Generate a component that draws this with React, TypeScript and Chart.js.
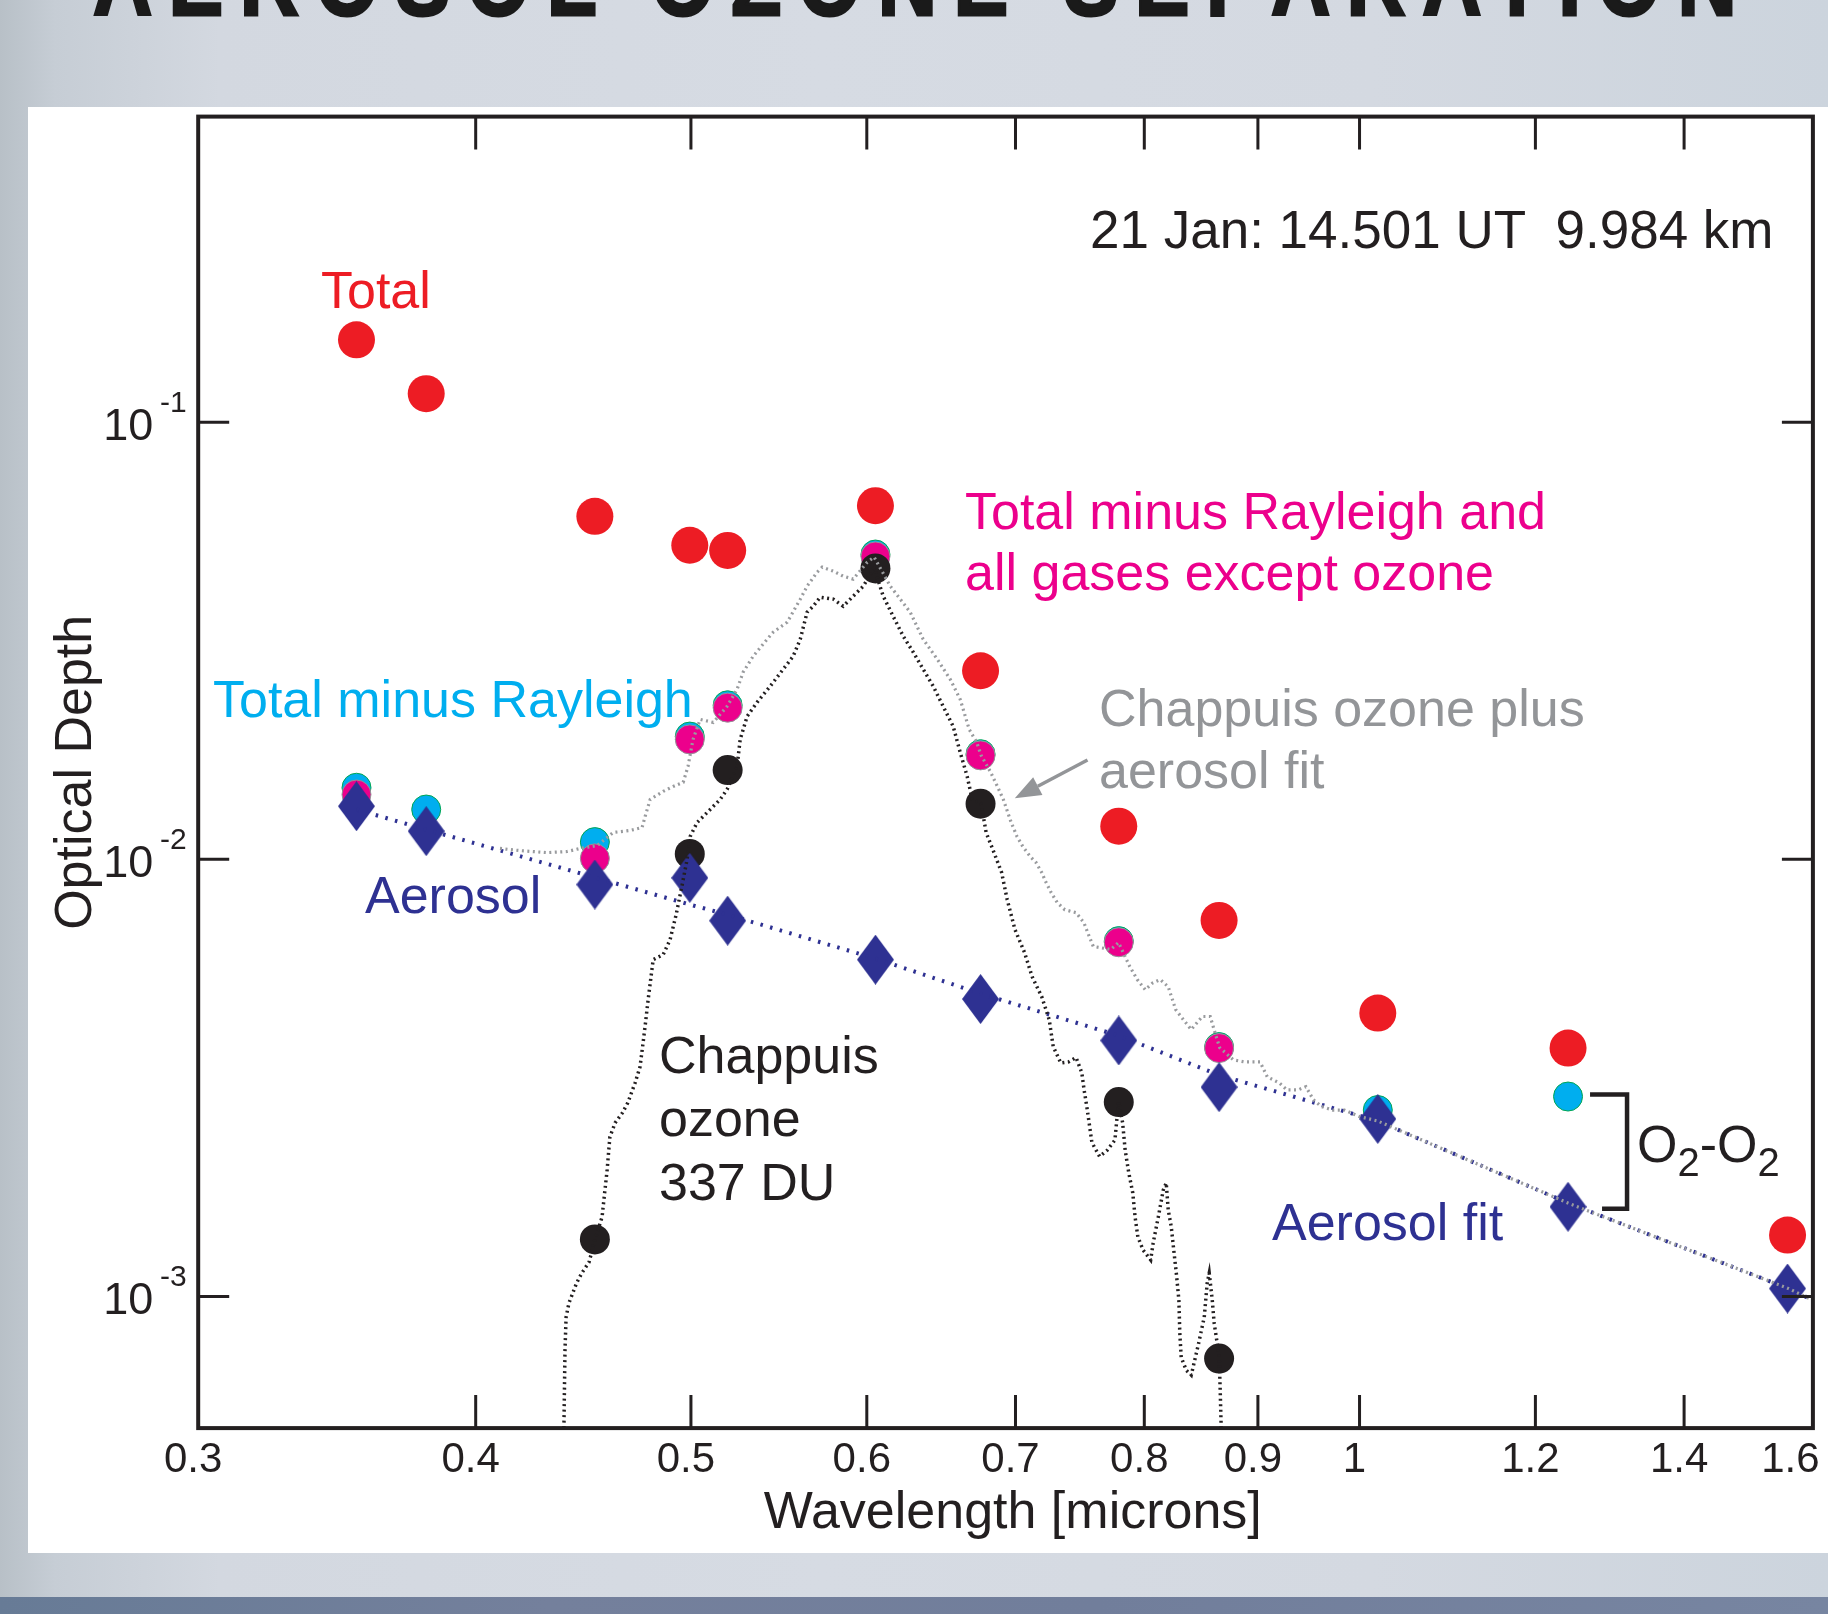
import React, { useEffect, useRef } from 'react';
import { Chart, registerables } from 'chart.js';

Chart.register(...registerables);

// ---------- data ----------
const wavelengths = [0.3535, 0.38, 0.4526, 0.4994, 0.5194, 0.6054, 0.6751, 0.7791, 0.8645, 1.0191, 1.2413, 1.5585];
const totalOD = [0.1543, 0.1162, 0.0609, 0.0523, 0.0509, 0.0644, 0.027, 0.01191, 0.00725, 0.00445, 0.0037, 0.001382];
const totalMinusRayleighOD = [0.01458, 0.013, 0.01095, 0.01909, 0.02251, 0.0498, 0.0174, 0.0065, 0.00372, 0.00267, 0.002867, null];
const minusGasesExceptOzoneOD = [0.01407, null, 0.01005, 0.01881, 0.02223, 0.0493, 0.01729, 0.00646, 0.0037, null, null, null];
const chappuisAtChannelsOD = [null, null, 0.001351, 0.01029, 0.016, 0.04628, 0.0134, 0.002784, 0.000721, null, null, null];
const aerosolOD = [0.01323, 0.0116, 0.008757, 0.009071, 0.00724, 0.005896, 0.004792, 0.003852, 0.003012, 0.002548, 0.001604, 0.001043];

const aerosolFitLambda = [0.3535, 0.38, 0.4526, 0.4994, 0.5194, 0.6054, 0.6751, 0.7791, 0.8645, 1.0191, 1.2413, 1.5585, 1.6];
const aerosolFitOD = [0.013, 0.0117, 0.00909, 0.00788, 0.00747, 0.00593, 0.00493, 0.00395, 0.00321, 0.00252, 0.001636, 0.001045, 0.000981];

const chappuisLambda = [
  0.4383, 0.4388, 0.4393, 0.4406, 0.4441, 0.4465, 0.4499, 0.4527, 0.456, 0.4572,
  0.4584, 0.4597, 0.4622, 0.4657, 0.4683, 0.4719, 0.4743, 0.4758, 0.477, 0.4783,
  0.4808, 0.4858, 0.4893, 0.4924, 0.4955, 0.498, 0.4996, 0.5032, 0.5085, 0.5154,
  0.5191, 0.5245, 0.5262, 0.53, 0.5355, 0.5428, 0.5502, 0.5559, 0.56, 0.564,
  0.5676, 0.5717, 0.5795, 0.5855, 0.5916, 0.5978, 0.6046, 0.6103, 0.6166, 0.6231,
  0.6296, 0.6361, 0.6428, 0.6494, 0.6562, 0.661, 0.6658, 0.6693, 0.6755, 0.679,
  0.6846, 0.69, 0.694, 0.6996, 0.7066, 0.7122, 0.7193, 0.7249, 0.7279, 0.7337,
  0.7396, 0.7454, 0.7498, 0.7516, 0.7537, 0.7555, 0.7577, 0.7638, 0.7698, 0.776,
  0.7789, 0.7822, 0.7843, 0.7872, 0.7905, 0.7924, 0.7947, 0.799, 0.8053, 0.8074,
  0.8117, 0.8159, 0.8184, 0.8201, 0.8227, 0.8248, 0.827, 0.8292, 0.83, 0.8312,
  0.8356, 0.8399, 0.846, 0.8513, 0.8539, 0.8557, 0.8584, 0.8601, 0.8628, 0.8646,
  0.8655, 0.8664,
];
const chappuisOD = [
  0.0005, 0.000754, 0.000897, 0.000966, 0.001073, 0.001131, 0.001199, 0.001353, 0.00152, 0.001725,
  0.001948, 0.002318, 0.002495, 0.00263, 0.002773, 0.003083, 0.003353, 0.003805, 0.004229, 0.004775,
  0.005896, 0.006053, 0.006551, 0.007475, 0.008757, 0.00999, 0.01128, 0.01214, 0.0128, 0.01371,
  0.01445, 0.01632, 0.01881, 0.02124, 0.02286, 0.02488, 0.02722, 0.02914, 0.03188, 0.03676,
  0.03793, 0.03978, 0.03936, 0.03793, 0.03999, 0.04215, 0.04636, 0.03999, 0.03598, 0.03239,
  0.02977, 0.02722, 0.02488, 0.02239, 0.02015, 0.01757, 0.01548, 0.01371, 0.01342, 0.01152,
  0.01036, 0.00933, 0.00809, 0.00691, 0.00612, 0.00539, 0.00485, 0.0043, 0.00373, 0.00342,
  0.00344, 0.00352, 0.00325, 0.00297, 0.00272, 0.0025, 0.00225, 0.00209, 0.00216, 0.00228,
  0.00279, 0.0025, 0.00216, 0.00192, 0.001725, 0.00152, 0.001368, 0.001277, 0.001212, 0.001326,
  0.00152, 0.001753, 0.001819, 0.001577, 0.001442, 0.001277, 0.001131, 0.000981, 0.000824, 0.000726,
  0.000678, 0.000661, 0.000774, 0.000897, 0.001073, 0.001131, 0.000981, 0.000869, 0.000782, 0.000722,
  0.00061, 0.0005,
];

const chappuisPlusFitLambda = [
  0.4102, 0.4188, 0.4307, 0.4398, 0.4457, 0.4537, 0.4613, 0.4694, 0.4753, 0.4768,
  0.4793, 0.4858, 0.4909, 0.496, 0.4985, 0.5011, 0.5048, 0.5117, 0.5191, 0.5245,
  0.5278, 0.5333, 0.5411, 0.5445, 0.5525, 0.56, 0.564, 0.5699, 0.5729, 0.5795,
  0.5855, 0.5916, 0.6003, 0.6046, 0.6148, 0.6212, 0.6276, 0.6361, 0.6455, 0.6542,
  0.661, 0.6672, 0.6724, 0.6755, 0.6819, 0.6873, 0.6912, 0.6969, 0.7011, 0.7053,
  0.7108, 0.7151, 0.7193, 0.7222, 0.7264, 0.731, 0.7367, 0.7454, 0.7515, 0.7544,
  0.7588, 0.7727, 0.7789, 0.7881, 0.7942, 0.8008, 0.8071, 0.8134, 0.8201, 0.8265,
  0.833, 0.8398, 0.8496, 0.8566, 0.86, 0.865, 0.8773, 0.8874, 0.902, 0.9088,
  0.9202, 0.9274, 0.9385, 0.9459, 0.9532, 0.9612, 0.9727, 0.9844, 0.9998, 1.0191,
  1.2413, 1.5585, 1.6,
];
const chappuisPlusFitOD = [
  0.01059, 0.01047, 0.01036, 0.01042, 0.01059, 0.01075, 0.01152, 0.01164, 0.01182, 0.01253,
  0.01371, 0.0143, 0.01468, 0.015, 0.01632, 0.01881, 0.0209, 0.02057, 0.02239, 0.02448,
  0.02679, 0.02914, 0.03188, 0.03308, 0.03487, 0.03936, 0.04215, 0.04539, 0.0466, 0.04563,
  0.04444, 0.04375, 0.04785, 0.04913, 0.04215, 0.03936, 0.03676, 0.03188, 0.02868, 0.02581,
  0.02323, 0.01983, 0.01852, 0.01729, 0.01589, 0.01461, 0.01371, 0.01214, 0.01128, 0.0107,
  0.01015, 0.00983, 0.00933, 0.0089, 0.00839, 0.00796, 0.00767, 0.00755, 0.00716, 0.0068,
  0.00632, 0.00622, 0.00645, 0.00568, 0.00531, 0.00503, 0.00522, 0.00531, 0.00511, 0.00453,
  0.0043, 0.00408, 0.00437, 0.00437, 0.00408, 0.00371, 0.00348, 0.00344, 0.00344, 0.00318,
  0.00308, 0.00297, 0.00297, 0.00302, 0.00282, 0.00272, 0.00267, 0.00267, 0.00258, 0.00252,
  0.001636, 0.001045, 0.000981,
];

const xTickValues = [0.3, 0.4, 0.5, 0.6, 0.7, 0.8, 0.9, 1, 1.2, 1.4, 1.6];
const xTickLabels = ['0.3', '0.4', '0.5', '0.6', '0.7', '0.8', '0.9', '1', '1.2', '1.4', '1.6'];
const yDecadeValues = [1e-3, 1e-2, 1e-1];
const yDecadeExponents = ['-3', '-2', '-1'];

// ---------- styling ----------
const FAMILY = '"Liberation Sans", Arial, Helvetica, sans-serif';
const INK = '#231f20';
const RED = '#ed1c24';
const CYAN = '#00aeef';
const MAGENTA = '#ec008c';
const GRAY = '#939598';
const NAVY = '#2e3192';

const Y_MIN = 5e-4;
const Y_MAX = 0.5;

function isDecade(v: number) {
  const l = Math.log10(v);
  return Math.abs(l - Math.round(l)) < 1e-6;
}

function buildYTicks() {
  const out: number[] = [];
  for (let e = -4; e <= -1; e++) {
    for (let m = 1; m <= 9; m++) {
      const v = parseFloat((m * Math.pow(10, e)).toPrecision(6));
      if (v >= Y_MIN * 0.999 && v <= Y_MAX * 1.001) out.push(v);
    }
  }
  return out;
}

function pts(xs: number[], ys: (number | null)[]) {
  const r: { x: number; y: number }[] = [];
  xs.forEach((x, i) => {
    const y = ys[i];
    if (y !== null && y !== undefined) r.push({ x, y });
  });
  return r;
}

function makeDiamond(w: number, h: number, color: string) {
  const c = document.createElement('canvas');
  c.width = w;
  c.height = h;
  const g = c.getContext('2d')!;
  g.fillStyle = color;
  g.beginPath();
  g.moveTo(w / 2, 0);
  g.lineTo(w, h / 2);
  g.lineTo(w / 2, h);
  g.lineTo(0, h / 2);
  g.closePath();
  g.fill();
  return c;
}

const overlayPlugin = {
  id: 'overlay',
  afterDraw(chart: any) {
    const { ctx, chartArea: a } = chart;
    const xs = chart.scales.x;
    const ys = chart.scales.y;
    ctx.save();

    // inward tick marks
    ctx.strokeStyle = INK;
    ctx.lineWidth = 3;
    ctx.lineCap = 'butt';
    ys.ticks.forEach((t: any) => {
      const py = ys.getPixelForValue(t.value);
      if (py < a.top + 2 || py > a.bottom - 2) return;
      const len = isDecade(t.value) ? 31 : 15;
      ctx.beginPath();
      ctx.moveTo(a.left, py);
      ctx.lineTo(a.left + len, py);
      ctx.moveTo(a.right, py);
      ctx.lineTo(a.right - len, py);
      ctx.stroke();
    });
    xs.ticks.forEach((t: any) => {
      const px = xs.getPixelForValue(t.value);
      if (px < a.left + 2 || px > a.right - 2) return;
      ctx.beginPath();
      ctx.moveTo(px, a.top);
      ctx.lineTo(px, a.top + 33);
      ctx.moveTo(px, a.bottom);
      ctx.lineTo(px, a.bottom - 33);
      ctx.stroke();
    });

    // frame
    ctx.lineWidth = 4;
    ctx.strokeRect(a.left, a.top, a.right - a.left, a.bottom - a.top);

    // exponents of the decade labels
    ctx.fillStyle = INK;
    ctx.font = `30px ${FAMILY}`;
    ctx.textAlign = 'left';
    ctx.textBaseline = 'alphabetic';
    yDecadeValues.forEach((v, i) => {
      const py = ys.getPixelForValue(v);
      ctx.fillText(yDecadeExponents[i], 132, py - 10);
    });

    // annotations
    const big = `52px ${FAMILY}`;
    const put = (s: string, x: number, y: number, color: string, font = big) => {
      ctx.font = font;
      ctx.fillStyle = color;
      ctx.fillText(s, x, y);
    };
    put('21 Jan: 14.501 UT  9.984 km', 1062, 141, INK, `53px ${FAMILY}`);
    put('Total', 293, 201, RED);
    put('Total minus Rayleigh and', 937, 422, MAGENTA);
    put('all gases except ozone', 937, 483, MAGENTA);
    put('Total minus Rayleigh', 185, 610, CYAN);
    put('Chappuis ozone plus', 1071, 619, GRAY);
    put('aerosol fit', 1071, 681, GRAY);
    put('Aerosol', 337, 806, NAVY);
    put('Chappuis', 631, 966, INK);
    put('ozone', 631, 1029, INK);
    put('337 DU', 631, 1093, INK);
    put('Aerosol fit', 1244, 1133, NAVY);

    // O2-O2 label with subscripts
    let cx = 1609;
    const base = 1055;
    const sub = `40px ${FAMILY}`;
    const parts: [string, string, number][] = [
      ['O', big, 0], ['2', sub, 14], ['-', big, 0], ['O', big, 0], ['2', sub, 14],
    ];
    parts.forEach(([s, f, dy]) => {
      ctx.font = f;
      ctx.fillStyle = INK;
      ctx.fillText(s, cx, base + dy);
      cx += ctx.measureText(s).width;
    });

    // bracket between the 1.24 micron points
    const bx = xs.getPixelForValue(wavelengths[10]);
    const byTop = ys.getPixelForValue(totalMinusRayleighOD[10] as number) - 2;
    const byBot = ys.getPixelForValue(aerosolOD[10]) + 2;
    ctx.strokeStyle = INK;
    ctx.lineWidth = 4.5;
    ctx.lineJoin = 'miter';
    ctx.beginPath();
    ctx.moveTo(bx + 22, byTop);
    ctx.lineTo(bx + 59, byTop);
    ctx.lineTo(bx + 59, byBot);
    ctx.lineTo(bx + 34, byBot);
    ctx.stroke();

    // gray arrow
    const sx = 1059.5, sy = 653, tx = 986.8, ty = 691.3;
    const dx = tx - sx, dy = ty - sy;
    const L = Math.hypot(dx, dy);
    const ux = dx / L, uy = dy / L;
    const headLen = 26, headHalf = 10;
    const bX = tx - ux * headLen, bY = ty - uy * headLen;
    ctx.strokeStyle = GRAY;
    ctx.fillStyle = GRAY;
    ctx.lineWidth = 3.5;
    ctx.beginPath();
    ctx.moveTo(sx, sy);
    ctx.lineTo(bX, bY);
    ctx.stroke();
    ctx.beginPath();
    ctx.moveTo(tx, ty);
    ctx.lineTo(bX - uy * headHalf, bY + ux * headHalf);
    ctx.lineTo(bX + uy * headHalf, bY - ux * headHalf);
    ctx.closePath();
    ctx.fill();

    ctx.restore();
  },
};

export default function App() {
  const ref = useRef<HTMLCanvasElement>(null);

  useEffect(() => {
    Chart.defaults.font.family = FAMILY;
    const diamond = makeDiamond(37, 50, NAVY);
    const yTicks = buildYTicks();
    const lastX = xTickLabels.length - 1;

    const chart = new Chart(ref.current as HTMLCanvasElement, {
      type: 'scatter',
      data: {
        datasets: [
          {
            label: 'Chappuis ozone 337 DU',
            data: pts(chappuisLambda, chappuisOD),
            showLine: true,
            borderColor: INK,
            borderWidth: 3.5,
            borderDash: [2, 3.5],
            pointRadius: 0,
            pointHoverRadius: 0,
            order: 0,
          },
          {
            label: 'Chappuis ozone plus aerosol fit',
            data: pts(chappuisPlusFitLambda, chappuisPlusFitOD),
            showLine: true,
            borderColor: '#999b9e',
            borderWidth: 3.2,
            borderDash: [2, 3.5],
            pointRadius: 0,
            pointHoverRadius: 0,
            order: 1,
          },
          {
            label: 'Aerosol fit',
            data: pts(aerosolFitLambda, aerosolFitOD),
            showLine: true,
            borderColor: NAVY,
            borderWidth: 4,
            borderDash: [2.5, 7.5],
            pointRadius: 0,
            pointHoverRadius: 0,
            order: 2,
          },
          {
            label: 'Aerosol',
            data: pts(wavelengths, aerosolOD),
            pointStyle: diamond as any,
            pointRadius: 20,
            backgroundColor: NAVY,
            borderColor: NAVY,
            order: 3,
          },
          {
            label: 'Chappuis ozone at channels',
            data: pts(wavelengths, chappuisAtChannelsOD),
            pointRadius: 15,
            pointBorderWidth: 0,
            backgroundColor: INK,
            borderColor: INK,
            order: 4,
          },
          {
            label: 'Total minus Rayleigh and all gases except ozone',
            data: pts(wavelengths, minusGasesExceptOzoneOD),
            pointRadius: 14.5,
            pointBorderWidth: 1,
            backgroundColor: MAGENTA,
            borderColor: GRAY,
            order: 5,
          },
          {
            label: 'Total minus Rayleigh',
            data: pts(wavelengths, totalMinusRayleighOD),
            pointRadius: 14.5,
            pointBorderWidth: 1,
            backgroundColor: CYAN,
            borderColor: '#00a651',
            order: 6,
          },
          {
            label: 'Total',
            data: pts(wavelengths, totalOD),
            pointRadius: 18.5,
            pointBorderWidth: 0,
            backgroundColor: RED,
            borderColor: RED,
            order: 7,
          },
        ],
      },
      options: {
        responsive: false,
        animation: false,
        devicePixelRatio: 1,
        events: [],
        layout: { autoPadding: false, padding: { left: 0, top: 9.6, right: 15.1, bottom: 0 } },
        plugins: {
          legend: { display: false },
          tooltip: { enabled: false },
          title: { display: false },
        },
        scales: {
          x: {
            type: 'logarithmic',
            position: 'bottom',
            min: 0.3,
            max: 1.6,
            afterBuildTicks: (s: any) => {
              s.ticks = xTickValues.map((value) => ({ value }));
            },
            afterFit: (s: any) => {
              s.height = 124.9;
              s.paddingLeft = 0;
              s.paddingRight = 0;
            },
            grid: { display: false, drawTicks: false },
            border: { display: false },
            ticks: {
              autoSkip: false,
              maxRotation: 0,
              minRotation: 0,
              padding: 7,
              labelOffset: -5,
              color: INK,
              font: { size: 42 },
              callback: (_v: any, i: number) => (i === lastX ? xTickLabels[i] + '   ' : xTickLabels[i]),
            },
            title: {
              display: true,
              text: ' Wavelength [microns]',
              color: INK,
              font: { size: 52 },
              padding: { top: 0, bottom: 8 },
            },
          },
          y: {
            type: 'logarithmic',
            position: 'left',
            min: Y_MIN,
            max: Y_MAX,
            afterBuildTicks: (s: any) => {
              s.ticks = yTicks.map((value) => ({ value }));
            },
            afterFit: (s: any) => {
              s.width = 170.2;
              s.paddingTop = 0;
              s.paddingBottom = 0;
            },
            grid: { display: false, drawTicks: false },
            border: { display: false },
            ticks: {
              autoSkip: false,
              padding: 45,
              labelOffset: 5,
              color: INK,
              font: { size: 45 },
              callback: (v: any) => (isDecade(Number(v)) ? '10' : null),
            },
            title: {
              display: true,
              text: 'Optical Depth',
              color: INK,
              font: { size: 52 },
              padding: { top: 17, bottom: 0 },
            },
          },
        },
      } as any,
      plugins: [overlayPlugin],
    });
    return () => chart.destroy();
  }, []);

  return (
    <div
      style={{
        position: 'absolute',
        left: 0,
        top: 0,
        width: 1828,
        height: 1614,
        overflow: 'hidden',
        background:
          'linear-gradient(90deg, #b8c0c7 0%, #c6cdd5 3%, #d3d8e0 12%, #d6dbe3 45%, #d4d9e1 75%, #ccd4dd 100%)',
      }}
    >
      <div
        style={{
          position: 'absolute',
          left: 93,
          top: -69.6,
          fontFamily: FAMILY,
          fontWeight: 'bold',
          fontSize: 100,
          lineHeight: '100px',
          letterSpacing: 20,
          whiteSpace: 'nowrap',
          color: '#1a1a1a',
          transform: 'scaleX(0.82)',
          transformOrigin: '0 0',
          WebkitTextStroke: '3px #1a1a1a',
        }}
      >
        AEROSOL OZONE SEPARATION
      </div>
      <div
        style={{
          position: 'absolute',
          left: 28,
          top: 107,
          width: 1800,
          height: 1446,
          background: '#ffffff',
        }}
      >
        <canvas
          ref={ref}
          width={1800}
          height={1446}
          style={{ display: 'block', width: 1800, height: 1446 }}
        />
      </div>
      <div
        style={{
          position: 'absolute',
          left: 0,
          top: 1597,
          width: 1828,
          height: 17,
          background: 'linear-gradient(90deg, #677b96 0%, #74809c 30%, #717e9b 60%, #7785a1 100%)',
        }}
      />
    </div>
  );
}
